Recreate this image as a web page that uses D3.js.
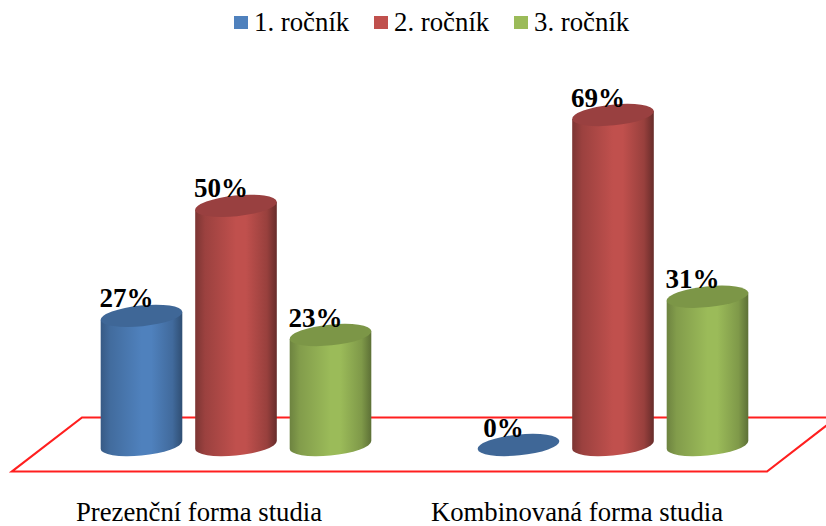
<!DOCTYPE html>
<html>
<head>
<meta charset="utf-8">
<script src="https://cdn.jsdelivr.net/npm/d3@7/dist/d3.min.js"></script>
<style>
  html, body { margin: 0; padding: 0; background: #fff; }
  svg { display: block; }
  text { font-family: "Liberation Serif", serif; fill: #000; }
</style>
</head>
<body>
<svg id="chart" width="826" height="526"></svg>
<script>
// Share of students by study form and year
const categories = ["Prezenční forma studia", "Kombinovaná forma studia"];
const seriesNames = ["1. ročník", "2. ročník", "3. ročník"];
const prezencni = [27, 50, 23];
const kombinovana = [0, 69, 31];
const seriesValues = [prezencni, kombinovana];
const baseColors = ["#4f81bd", "#c0504d", "#9bbb59"];
const edgeLeft = ["#375a85", "#7c3533", "#6d8340"];
const edgeRight = ["#2f4e73", "#672c2a", "#5d7036"];
const capColors = ["#3f6797", "#994040", "#7c9647"];

const svg = d3.select("#chart");

const x0 = d3.scaleBand().domain(categories).range([47.5, 801.5]);
const x1 = d3.scalePoint().domain(seriesNames).range([-94.5, 94.5]);
const y = d3.scaleLinear().domain([0, 69]).range([445, 115]);

// Tilted ellipse that forms the top and bottom of each cylinder
const rx = 41, ry = 10.4, tiltDeg = -5.8;
const tilt = tiltDeg * Math.PI / 180;
const tangentT = Math.atan2(-ry * Math.sin(tilt), rx * Math.cos(tilt));
const tx = rx * Math.cos(tangentT) * Math.cos(tilt) - ry * Math.sin(tangentT) * Math.sin(tilt);
const ty = rx * Math.cos(tangentT) * Math.sin(tilt) + ry * Math.sin(tangentT) * Math.cos(tilt);

const defs = svg.append("defs");
baseColors.forEach((c, i) => {
  const g = defs.append("linearGradient").attr("id", "body" + i);
  [[0, edgeLeft[i]], [0.12, d3.interpolateRgb(edgeLeft[i], c)(0.45)], [0.5, c], [0.62, c],
   [0.88, d3.interpolateRgb(edgeRight[i], c)(0.55)], [1, edgeRight[i]]]
    .forEach(([o, col]) => g.append("stop").attr("offset", o).attr("stop-color", col));
});

// Floor plane under the columns
const floor = { left: 12, right: 767, back: 417.5, front: 471.5, inset: 70 };
svg.append("path")
  .attr("d", d3.line()([
    [floor.right + floor.inset, floor.back],
    [floor.left + floor.inset, floor.back],
    [floor.left, floor.front],
    [floor.right, floor.front]
  ]) + "Z")
  .attr("fill", "none")
  .attr("stroke", "#ff1f1f")
  .attr("stroke-width", 2.2)
  .attr("stroke-linejoin", "miter");

const marks = [];
categories.forEach((cat, ci) => {
  seriesNames.forEach((name, si) => {
    marks.push({
      value: seriesValues[ci][si],
      si,
      cx: x0(cat) + x0.bandwidth() / 2 + x1(name)
    });
  });
});

const ellipseArc = (sweep, xEnd, yEnd) =>
  `A${rx} ${ry} ${tiltDeg} 1 ${sweep} ${xEnd} ${yEnd}`;

// Column bodies
svg.selectAll("path.body")
  .data(marks.filter(d => d.value > 0))
  .join("path")
  .attr("class", "body")
  .attr("fill", d => `url(#body${d.si})`)
  .attr("d", d => {
    const top = y(d.value), bot = y(0);
    return `M${d.cx - tx} ${top - ty}` +
      `L${d.cx - tx} ${bot - ty}` +
      ellipseArc(0, d.cx + tx, bot + ty) +
      `L${d.cx + tx} ${top + ty}Z`;
  });

// Column caps; a zero value leaves only the flat disc
svg.selectAll("ellipse.cap")
  .data(marks)
  .join("ellipse")
  .attr("class", "cap")
  .attr("rx", rx)
  .attr("ry", ry)
  .attr("fill", d => capColors[d.si])
  .attr("transform", d => `translate(${d.cx},${y(d.value)}) rotate(${tiltDeg})`);

// Value labels
svg.selectAll("text.value")
  .data(marks)
  .join("text")
  .attr("class", "value")
  .attr("x", d => d.cx - 15)
  .attr("y", d => y(d.value) - 8.5)
  .attr("text-anchor", "middle")
  .attr("font-size", 27)
  .attr("font-weight", "bold")
  .text(d => d.value + "%");

// Category labels
svg.selectAll("text.cat")
  .data(categories)
  .join("text")
  .attr("class", "cat")
  .attr("x", (d, i) => [199, 577][i])
  .attr("y", 521)
  .attr("text-anchor", "middle")
  .attr("font-size", 26.7)
  .text(d => d);

// Legend
const legendX = d3.scalePoint().domain(seriesNames).range([234, 514]);
const legend = svg.selectAll("g.legend")
  .data(seriesNames)
  .join("g")
  .attr("class", "legend")
  .attr("transform", d => `translate(${legendX(d)},0)`);
legend.append("rect")
  .attr("y", 16).attr("width", 14).attr("height", 13)
  .attr("fill", (d, i) => baseColors[i]);
legend.append("text")
  .attr("x", 20).attr("y", 31)
  .attr("font-size", 26.8)
  .text(d => d);
</script>
</body>
</html>
